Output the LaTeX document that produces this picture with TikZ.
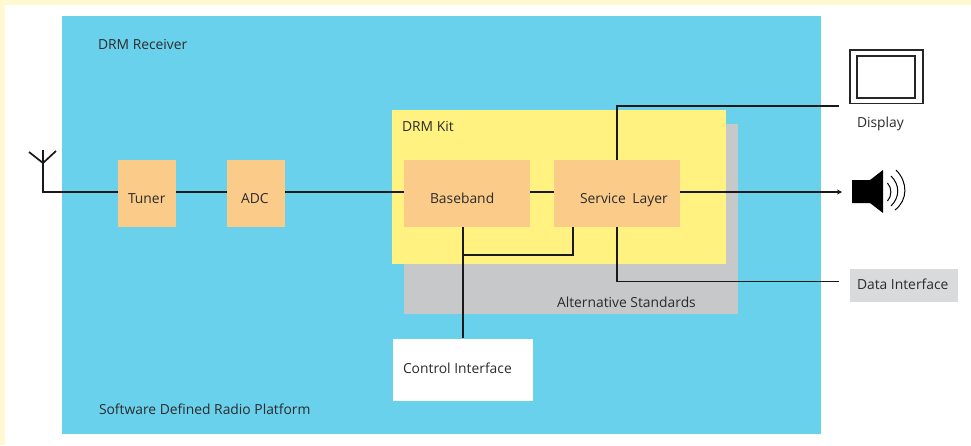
\documentclass[tikz,border=0pt]{standalone}
\usepackage{fontspec}
\usetikzlibrary{arrows.meta}
\setmainfont{Open Sans}
\definecolor{cream}{HTML}{FFF9D2}
\definecolor{sky}{HTML}{6AD1EC}
\definecolor{kit}{HTML}{FFF280}
\definecolor{alt}{HTML}{C6C8CA}
\definecolor{block}{HTML}{FBCB8A}
\definecolor{dataif}{HTML}{D9DADB}
\definecolor{ink}{HTML}{2B2B2B}
\tikzset{
  x=1pt,y=-1pt,
  area/.style={draw=none,inner sep=0pt,outer sep=0pt,anchor=north west},
  blockbox/.style={area,fill=block},
  lbl/.style={inner sep=0pt,outer sep=0pt,text=ink,font=\fontsize{13.85}{16}\selectfont,anchor=base west},
  conn/.style={line width=1.7pt,draw=black!90},
  thin conn/.style={line width=1.3pt,draw=black!90},
}
\newcommand{\bx}[6]{\node[#1,minimum width=#4pt,minimum height=#5pt] (#2) at (#3) {#6};}
\begin{document}
\begin{tikzpicture}
\useasboundingbox (0,0) rectangle (971,445);
\fill[cream] (0,0) rectangle (971,445);
\fill[white] (5,5) rectangle (971,445);
\bx{area,fill=sky}{receiver}{62,16}{759}{418}{}
\bx{area,fill=alt}{altstd}{404,124}{334}{190}{}
\bx{area,fill=kit}{drmkit}{392,110}{334}{154}{}
\bx{blockbox}{tuner}{118,160}{58}{67}{}
\bx{blockbox}{adc}{227,160}{58}{67}{}
\bx{blockbox}{baseband}{404,160}{126}{67}{}
\bx{blockbox}{service}{554,160}{126}{67}{}
\bx{area,fill=white}{control}{393,339}{140}{62}{}
\bx{area,fill=dataif}{dataif}{850,269}{108}{33}{}
% free ends
\coordinate (ant) at (43,192);
\coordinate (anttop) at (43,163);
\coordinate (antL) at (29,152);
\coordinate (antR) at (56,151);
\coordinate (dispend) at (839,106);
\coordinate (spkend) at (842,192);
\coordinate (dataend) at (839,281.5);
% connectors
\draw[conn] (antL) -- (anttop) -- (antR);
\draw[conn] (43,150) -- (ant) -- (ant -| tuner.west);
\draw[conn] (ant -| tuner.east) -- (ant -| adc.west);
\draw[conn] (ant -| adc.east) -- (ant -| baseband.west);
\draw[conn] (ant -| baseband.east) -- (ant -| service.west);
\draw[thin conn,-{Stealth[length=5pt,width=5pt]}] (ant -| service.east) -- (spkend);
\draw[conn] (617,160) -- (617,106) -- (dispend);
\draw[conn] (617,227) -- (617,281.5) -- (dataend);
\draw[conn] (463,227) -- (463,338);
\draw[conn] (463,255) -- (573,255) -- (573,227);
% display
\node[area,draw=black!85,line width=1.3pt,fill=white,minimum width=73pt,minimum height=53.5pt] (dispout) at (850,50) {};
\node[area,draw=black!85,line width=1.3pt,fill=white,minimum width=58pt,minimum height=42pt] (dispin) at (857,56) {};
% speaker
\fill[black] (852,180) -- (870,180) -- (883,170) -- (883,213) -- (870,203) -- (852,203) -- cycle;
\draw[line width=1pt] (887.5,183) .. controls (892,188) and (892,196) .. (887.5,201);
\draw[line width=1pt] (891,176) .. controls (900,185) and (900,197) .. (891,206);
\draw[line width=1pt] (896,170) .. controls (908,182) and (908,200) .. (895,210);
% labels
\node[lbl] (t1) at (98,49) {DRM Receiver};
\node[lbl] (t2) at (99,414) {Software Defined Radio Platform};
\node[lbl] (t3) at (402,131) {DRM Kit};
\node[lbl] (t4) at (128,203) {Tuner};
\node[lbl] (t5) at (241,203) {ADC};
\node[lbl] (t6) at (430,203) {Baseband};
\node[lbl] (t7) at (580,203) {Service\hspace{3pt} Layer};
\node[lbl] (t8) at (557,307) {Alternative Standards};
\node[lbl] (t9) at (403,373) {Control Interface};
\node[lbl] (t10) at (857,127) {Display};
\node[lbl] (t11) at (857,289) {Data Interface};
\end{tikzpicture}
\end{document}
